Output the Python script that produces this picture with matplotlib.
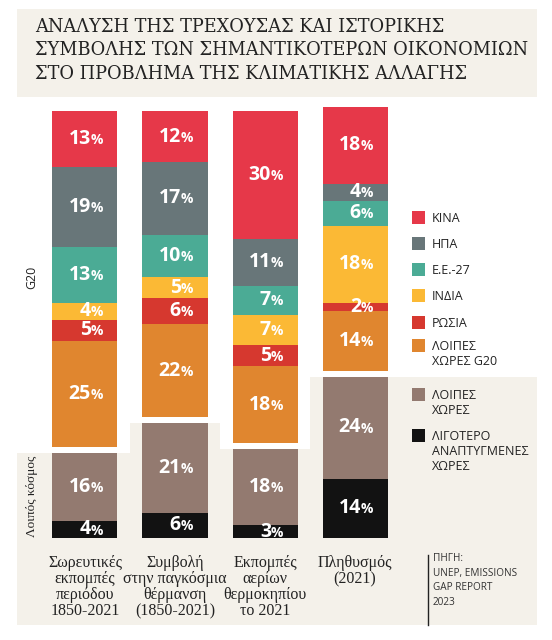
import matplotlib.pyplot as plt
import numpy as np
from matplotlib.patches import Rectangle
from matplotlib.lines import Line2D

# data (shares in %)
categories = ["Σωρευτικές\nεκπομπές\nπεριόδου\n1850-2021",
              "Συμβολή\nστην παγκόσμια\nθέρμανση\n(1850-2021)",
              "Εκπομπές\nαερίων\nθερμοκηπίου\nτο 2021",
              "Πληθυσμός\n(2021)"]
# G20 parts, bottom -> top
g20_names = ["ΛΟΙΠΕΣ\nΧΩΡΕΣ G20", "ΡΩΣΙΑ", "ΙΝΔΙΑ", "Ε.Ε.-27", "ΗΠΑ", "ΚΙΝΑ"]
g20_values = [[25, 22, 18, 14],
              [5, 6, 5, 2],
              [4, 5, 7, 18],
              [13, 10, 7, 6],
              [19, 17, 11, 4],
              [13, 12, 30, 18]]
# rest of world, bottom -> top
rest_names = ["ΛΙΓΟΤΕΡΟ\nΑΝΑΠΤΥΓΜΕΝΕΣ\nΧΩΡΕΣ", "ΛΟΙΠΕΣ\nΧΩΡΕΣ"]
rest_values = [[4, 6, 3, 14],
               [16, 21, 18, 24]]

g20_colors = ["#e0862f", "#d6382f", "#fbb935", "#4bab95", "#687679", "#e63849"]
rest_colors = ["#121212", "#937a70"]
beige = "#f4f1ea"

W, H = 552, 640
def px(x, y):
    return x / W, 1 - y / H

fig = plt.figure(figsize=(5.52, 6.4), dpi=100)

# title box
fig.add_artist(Rectangle(px(17, 97), 520 / W, 88 / H, transform=fig.transFigure,
                         facecolor=beige, edgecolor="none", zorder=0))
fig.text(*px(35, 18), "ΑΝΑΛΥΣΗ ΤΗΣ ΤΡΕΧΟΥΣΑΣ ΚΑΙ ΙΣΤΟΡΙΚΗΣ\nΣΥΜΒΟΛΗΣ ΤΩΝ ΣΗΜΑΝΤΙΚΟΤΕΡΩΝ ΟΙΚΟΝΟΜΙΩΝ\nΣΤΟ ΠΡΟΒΛΗΜΑ ΤΗΣ ΚΛΙΜΑΤΙΚΗΣ ΑΛΛΑΓΗΣ",
         family="DejaVu Serif", fontsize=12.8, color="#222222", va="top", ha="left",
         linespacing=1.38)

# bar axes: x positions spaced 90 px, y scale 4.25 px per %
scale = 4.25
gap = 6 / scale
ax = fig.add_axes([17 / W, 1 - 625 / H, 520 / W, 528 / H])
ax.set_xlim(-68 / 90, 452 / 90)
ax.set_ylim(-(625 - 538) / scale, (538 - 97) / scale)
ax.axis("off")

x = np.arange(len(categories))
width = 65 / 90

rest_tot = np.sum(rest_values, axis=0)

# beige step background behind the rest-of-world part
xs = [ax.get_xlim()[0]]
ys = [rest_tot[0]]
for i in range(1, len(x)):
    xs += [i - 0.5, i - 0.5]
    ys += [rest_tot[i - 1], rest_tot[i]]
xs += [ax.get_xlim()[1]]
ys += [rest_tot[-1]]
xs += [ax.get_xlim()[1], ax.get_xlim()[0]]
ys += [ax.get_ylim()[0], ax.get_ylim()[0]]
ax.fill(xs, ys, color=beige, zorder=0, lw=0)


def pct_label(xc, yc, v):
    off = 6 / 90
    ax.text(xc + off, yc, str(v), ha="right", va="center", color="white",
            fontsize=14, fontweight="bold", family="Open Sans", zorder=5)
    ax.text(xc + off, yc - 0.25, "%", ha="left", va="center", color="white",
            fontsize=10, fontweight="bold", family="Open Sans", zorder=5)


bottom = np.zeros(len(x))
for vals, col in zip(rest_values, rest_colors):
    ax.bar(x, vals, width, bottom=bottom, color=col, zorder=2)
    for i, v in enumerate(vals):
        pct_label(x[i], bottom[i] + v / 2, v)
    bottom += np.array(vals)

bottom = rest_tot + gap
for vals, col in zip(g20_values, g20_colors):
    ax.bar(x, vals, width, bottom=bottom, color=col, zorder=2)
    for i, v in enumerate(vals):
        pct_label(x[i], bottom[i] + v / 2, v)
    bottom = bottom + np.array(vals)

for i, c in enumerate(categories):
    ax.text(x[i], -(555 - 538) / scale, c, ha="center", va="top", fontsize=11.5,
            family="Liberation Serif", color="#222222", linespacing=1.0, zorder=5)

# side labels
fig.text(*px(32, 277), "G20", rotation=90, ha="center", va="center",
         fontsize=9, family="Open Sans", color="#222222")
fig.text(*px(32, 496), "Λοιπός κόσμος", rotation=90, ha="center", va="center",
         fontsize=9.5, family="Liberation Serif", color="#222222")

# legend
leg_items = list(zip(g20_names[::-1], g20_colors[::-1]))
ys_leg = [211, 237, 263, 289, 316, 339]
for (name, col), yl in zip(leg_items, ys_leg):
    fig.add_artist(Rectangle(px(412, yl + 13), 13 / W, 13 / H, transform=fig.transFigure,
                             facecolor=col, edgecolor="none"))
    fig.text(*px(432, yl + 1), name, ha="left", va="top", fontsize=9,
             family="Open Sans", color="#222222", linespacing=1.2)
for (name, col), yl in zip([(rest_names[1], rest_colors[1]), (rest_names[0], rest_colors[0])], [388, 429]):
    fig.add_artist(Rectangle(px(412, yl + 13), 13 / W, 13 / H, transform=fig.transFigure,
                             facecolor=col, edgecolor="none"))
    fig.text(*px(432, yl + 1), name, ha="left", va="top", fontsize=9,
             family="Open Sans", color="#222222", linespacing=1.2)

# source
fig.add_artist(Line2D([428 / W, 428 / W], [1 - 555 / H, 1 - 625 / H],
                      transform=fig.transFigure, color="#222222", lw=1))
fig.text(*px(433, 553), "ΠΗΓΗ:\nUNEP, EMISSIONS\nGAP REPORT\n2023", ha="left", va="top",
         fontsize=7.2, family="Open Sans", color="#333333", linespacing=1.45)

fig.savefig("out.png", dpi=100)
